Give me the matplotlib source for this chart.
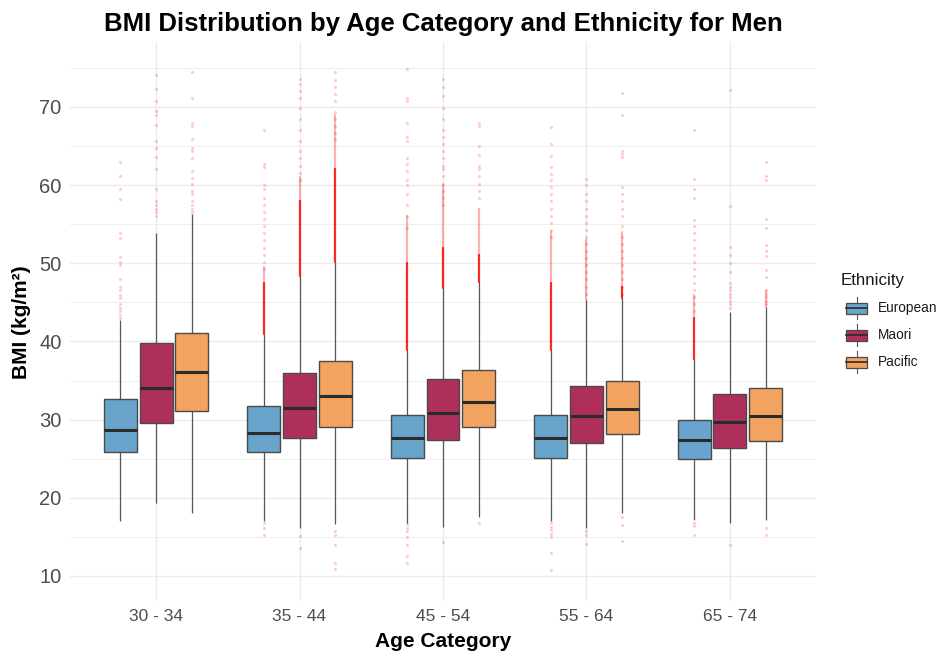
import matplotlib
matplotlib.use("Agg")
import matplotlib.pyplot as plt
from matplotlib.patches import Rectangle
import numpy as np

plt.rcParams['font.family'] = ['Liberation Sans', 'DejaVu Sans']

# ---- data -------------------------------------------------------------
age_categories = ["30 - 34", "35 - 44", "45 - 54", "55 - 64", "65 - 74"]
ethnicities = ["European", "Maori", "Pacific"]
colors = {"European": "#68A4CB", "Maori": "#AE2F5C", "Pacific": "#F2A35F"}

# box statistics per age category: [European, Maori, Pacific]
q1 = [[25.8, 29.6, 31.1], [25.8, 27.6, 29.0], [25.1, 27.4, 29.0], [25.1, 27.0, 28.1], [25.0, 26.4, 27.3]]
median = [[28.7, 34.0, 36.1], [28.3, 31.5, 33.0], [27.7, 30.8, 32.3], [27.6, 30.4, 31.4], [27.4, 29.7, 30.5]]
q3 = [[32.6, 39.8, 41.1], [31.8, 35.9, 37.5], [30.6, 35.2, 36.3], [30.6, 34.3, 35.0], [30.0, 33.3, 34.1]]
whisker_low = [[17.0, 19.3, 18.0], [17.0, 16.1, 16.6], [16.8, 16.3, 17.5], [17.0, 16.2, 18.0], [17.3, 16.8, 17.2]]
whisker_high = [[42.8, 53.9, 56.3], [40.9, 48.4, 50.2], [38.9, 46.8, 47.6], [38.9, 45.3, 45.6], [37.7, 43.8, 44.4]]

# individual outliers
outliers = [
    [[63.0, 61.1, 59.5, 58.2, 53.9, 53.2, 50.8, 50.2, 49.8, 48.0, 47.0, 46.6, 45.9, 45.5, 44.8, 44.3, 43.9, 43.4, 43.0],
     [74.1, 72.3, 70.7, 69.5, 68.9, 67.7, 65.7, 64.8, 63.6, 62.1, 59.5, 58.0, 57.5, 57.0, 56.6, 56.1],
     [74.4, 71.2, 68.0, 67.5, 65.9, 64.8, 64.3, 63.4, 61.8, 60.9, 60.2, 59.3, 58.9, 58.0, 57.5, 57.0, 56.6]],
    [[67.0, 62.7, 62.3, 60.0, 59.5, 58.4, 57.5, 56.6, 55.7, 54.8, 53.9, 53.0, 52.0, 51.1, 50.2, 49.3, 16.8, 16.1, 15.2],
     [73.6, 72.9, 72.0, 71.1, 69.8, 68.4, 67.0, 65.7, 64.3, 63.4, 62.5, 61.6, 60.7, 15.1, 13.6],
     [74.4, 73.4, 72.5, 71.6, 70.7, 69.3, 68.4, 67.5, 66.6, 65.9, 15.8, 15.2, 13.9, 11.6, 10.9]],
    [[74.8, 71.1, 70.7, 68.0, 66.1, 65.7, 63.4, 62.7, 61.8, 60.7, 60.0, 58.9, 57.5, 56.0, 54.5,
      16.6, 16.1, 15.7, 15.0, 13.9, 12.5, 11.6],
     [73.6, 72.5, 71.4, 69.8, 68.4, 67.0, 66.1, 65.2, 64.3, 63.4, 62.5, 62.0, 61.1, 60.2, 59.3, 58.4, 57.5, 14.3],
     [68.0, 67.5, 65.0, 63.9, 62.5, 62.0, 61.1, 60.2, 59.3, 58.4, 16.8]],
    [[67.4, 65.2, 63.7, 62.3, 61.4, 60.7, 59.8, 58.9, 58.0, 57.0, 56.1, 55.2, 54.3, 53.4,
      16.8, 16.3, 15.9, 15.4, 15.0, 13.0, 10.8],
     [60.8, 60.0, 58.9, 58.0, 57.0, 56.1, 55.2, 54.3, 53.4, 52.5, 51.6, 50.7, 49.8, 48.9, 48.0, 47.0, 46.1,
      15.8, 15.2, 14.1],
     [71.8, 69.0, 64.3, 64.0, 63.6, 59.8, 58.9, 58.0, 57.0, 56.1, 54.8, 53.4, 52.5, 51.6, 50.7, 49.8, 48.9,
      48.0, 47.0, 46.1, 17.6, 16.5, 14.5]],
    [[67.0, 60.8, 59.5, 58.4, 55.5, 54.8, 53.9, 53.0, 52.0, 51.1, 50.2, 49.3, 48.4, 47.5, 46.6, 45.7, 44.8, 43.9,
      17.3, 16.8, 16.4, 15.2],
     [72.1, 57.3, 52.1, 51.1, 50.0, 48.9, 47.5, 47.0, 46.6, 46.1, 45.7, 45.2, 44.8, 44.3, 14.0],
     [63.0, 61.1, 60.7, 55.7, 54.5, 52.3, 51.6, 50.9, 49.1, 48.2, 46.6, 46.1, 45.7, 45.2, 44.8, 16.1, 15.2]],
]

# ranges where outliers pile up into a continuous run: heavy (opaque) and light
heavy_runs = [
    [None, None, None],
    [(40.9, 47.5), (48.4, 58.0), (50.2, 62.0)],
    [(38.9, 50.0), (46.8, 52.0), (47.6, 51.0)],
    [(38.9, 47.5), None, (45.6, 47.0)],
    [(37.7, 43.0), None, None],
]
light_runs = [
    [None, None, None],
    [(47.5, 49.5), (58.0, 61.0), (62.0, 69.0)],
    [(50.0, 56.0), (52.0, 60.0), (51.0, 57.0)],
    [(47.5, 54.0), (45.3, 53.0), (47.0, 54.0)],
    [(43.0, 46.0), None, (44.4, 46.5)],
]

# ---- figure -------------------------------------------------------------
W, H = 940, 655
fig = plt.figure(figsize=(W / 100, H / 100), dpi=100)
left, right, top, bottom = 70, 816, 42, 601
ax = fig.add_axes([left / W, 1 - bottom / H, (right - left) / W, (bottom - top) / H])

grid_col = "#EBEBEB"
offsets = [-0.25, 0.0, 0.25]
box_w = 0.23
x_cat = np.arange(1, len(age_categories) + 1)

for i, xc in enumerate(x_cat):
    for j, eth in enumerate(ethnicities):
        x = xc + offsets[j]
        # whiskers
        ax.plot([x, x], [whisker_low[i][j], q1[i][j]], color="#555555", lw=0.9, zorder=2, solid_capstyle="butt")
        ax.plot([x, x], [q3[i][j], whisker_high[i][j]], color="#555555", lw=0.9, zorder=2, solid_capstyle="butt")
        # outliers
        pts = outliers[i][j]
        ax.scatter(np.full(len(pts), x), pts, s=5, color="red", alpha=0.2, linewidths=0, zorder=3)
        run = light_runs[i][j]
        if run is not None:
            ax.plot([x, x], list(run), color="red", lw=1.6, alpha=0.3, zorder=3, solid_capstyle="round")
        run = heavy_runs[i][j]
        if run is not None:
            ax.plot([x, x], list(run), color="red", lw=1.6, alpha=0.85, zorder=3, solid_capstyle="round")
        # box
        ax.add_patch(Rectangle((x - box_w / 2, q1[i][j]), box_w, q3[i][j] - q1[i][j],
                               facecolor=colors[eth], edgecolor="#4a4a4a", lw=1.0, zorder=4))
        ax.plot([x - box_w / 2, x + box_w / 2], [median[i][j]] * 2, color="#2b2b2b", lw=2.2, zorder=5,
                solid_capstyle="butt")

ax.set_xlim(0.4, 5.6)
ax.set_ylim(6.8, 78.3)
ax.set_xticks(x_cat)
ax.set_xticklabels(age_categories)
ax.set_yticks([10, 20, 30, 40, 50, 60, 70])
ax.set_yticks(np.arange(15, 80, 10), minor=True)
ax.grid(True, which="major", color=grid_col, lw=1.0, zorder=0)
ax.grid(True, which="minor", axis="y", color=grid_col, lw=0.6, zorder=0)
ax.set_axisbelow(True)
for s in ax.spines.values():
    s.set_visible(False)
ax.tick_params(axis="both", which="both", length=0, labelcolor="#4D4D4D")
ax.tick_params(axis="x", labelsize=12.5, pad=6)
ax.tick_params(axis="y", labelsize=14.5, pad=6)

fig.text(443 / W, 1 - 31 / H, "BMI Distribution by Age Category and Ethnicity for Men",
         fontsize=18.5, fontweight="bold", ha="center", va="baseline")
fig.text(443 / W, 1 - 647 / H, "Age Category", fontsize=15, fontweight="bold", ha="center", va="baseline")
fig.text(22 / W, 1 - 322 / H, "BMI (kg/m²)", fontsize=15, fontweight="bold", ha="center", va="center",
         rotation=90)

# ---- legend -------------------------------------------------------------
lax = fig.add_axes([0, 0, 1, 1])
lax.set_xlim(0, W)
lax.set_ylim(H, 0)
lax.axis("off")
lax.patch.set_alpha(0)
lax.text(841, 281, "Ethnicity", fontsize=12.2, va="center", ha="left", color="#1a1a1a")
for k, eth in enumerate(ethnicities):
    yc = 308 + 27 * k
    kx0, kx1 = 846, 867
    xm = (kx0 + kx1) / 2
    lax.plot([xm, xm], [yc - 11, yc - 5.5], color="#555555", lw=0.8)
    lax.plot([xm, xm], [yc + 5.5, yc + 11], color="#555555", lw=0.8)
    lax.add_patch(Rectangle((kx0, yc - 5.5), kx1 - kx0, 11, facecolor=colors[eth], edgecolor="#4a4a4a", lw=0.9))
    lax.plot([kx0, kx1], [yc, yc], color="#2b2b2b", lw=1.2)
    lax.text(878, yc, eth, fontsize=9.8, va="center", ha="left", color="#1a1a1a")

fig.savefig("out.png", dpi=100, facecolor="white")
